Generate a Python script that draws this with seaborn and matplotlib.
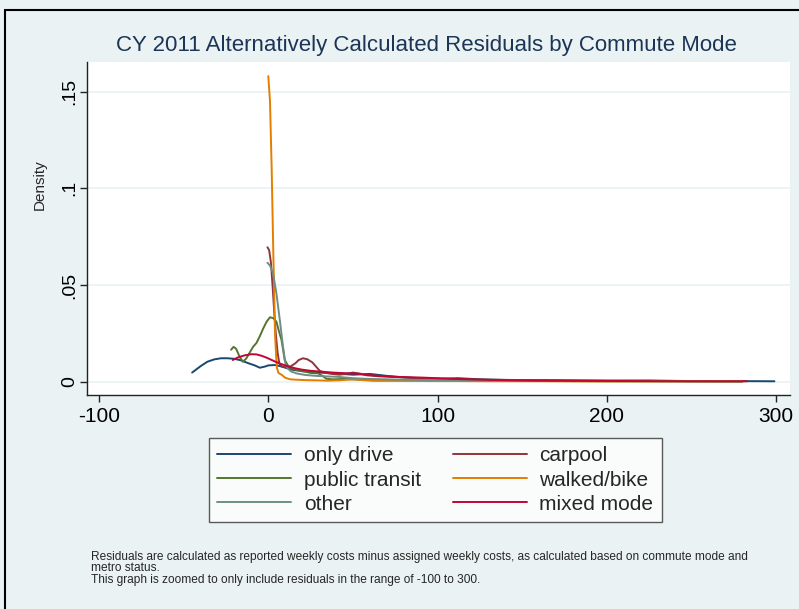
import matplotlib
matplotlib.use("Agg")
import matplotlib.pyplot as plt
import seaborn as sns
import pandas as pd
from matplotlib.lines import Line2D

# ---- data ----
modes = ["only drive", "carpool", "public transit", "walked/bike", "other", "mixed mode"]
colors = ["#1A476F", "#90353B", "#55752F", "#E37E00", "#6E8E84", "#C10534"]

drive_x = [-45, -40, -36, -32, -28, -24, -20, -16, -12, -8, -5, -2, 0, 4, 8, 14, 20, 30, 40, 50, 60, 70, 80, 90, 100, 112, 125, 140, 160, 180, 200, 225, 250, 275, 299]
drive_y = [0.0047, 0.0080, 0.0103, 0.0115, 0.0121, 0.0121, 0.0118, 0.0110, 0.0096, 0.0084, 0.0072, 0.0078, 0.0084, 0.0086, 0.0078, 0.0062, 0.0054, 0.0047, 0.0042, 0.0036, 0.0040, 0.0030, 0.0022, 0.0016, 0.0014, 0.0018, 0.0012, 0.0009, 0.0008, 0.0006, 0.0005, 0.0006, 0.0003, 0.0003, 0.0002]

carpool_x = [-0.5, 0.5, 1.5, 2.5, 3.5, 4.5, 5.5, 6.5, 8, 10, 13, 16, 18, 20.5, 23, 26, 28, 30.5, 34, 38, 42, 46, 50, 54, 58, 65, 75, 90, 110, 130, 160, 200, 240, 280]
carpool_y = [0.0695, 0.068, 0.062, 0.050, 0.036, 0.024, 0.015, 0.0095, 0.0078, 0.0074, 0.0078, 0.0095, 0.0112, 0.0121, 0.0116, 0.0100, 0.0080, 0.0055, 0.0045, 0.0040, 0.0036, 0.0040, 0.0047, 0.0042, 0.0033, 0.0028, 0.0024, 0.0018, 0.0014, 0.0010, 0.0007, 0.0005, 0.0003, 0.0002]

transit_x = [-22, -20.5, -19, -17, -15, -13, -11, -9, -7, -5, -3, -1, 1, 3, 4.8, 6, 7.8, 9.7, 11.5, 13.6, 17, 21.5, 25, 29.4, 32, 34.3, 38, 45, 55, 70, 90, 110, 140, 170, 200, 240, 280]
transit_y = [0.0165, 0.0180, 0.0170, 0.0130, 0.0103, 0.0120, 0.0150, 0.0180, 0.0200, 0.0235, 0.0275, 0.0310, 0.0333, 0.0328, 0.0310, 0.0270, 0.0216, 0.0112, 0.0085, 0.0069, 0.0060, 0.0052, 0.0045, 0.0043, 0.0030, 0.0015, 0.0012, 0.0014, 0.0010, 0.0008, 0.0006, 0.0005, 0.0004, 0.0003, 0.0002, 0.0002, 0.0001]

walk_x = [0, 1, 2, 3, 4, 5, 6, 8, 10, 13, 17, 22, 28, 35, 42, 50, 56, 62, 70, 80, 95, 110, 130, 160, 200, 240, 280]
walk_y = [0.158, 0.145, 0.110, 0.065, 0.024, 0.0075, 0.0045, 0.0035, 0.0020, 0.0012, 0.0010, 0.0008, 0.0007, 0.0005, 0.0007, 0.0012, 0.0008, 0.0004, 0.0004, 0.0004, 0.0003, 0.0003, 0.0002, 0.0002, 0.0001, 0.0001, 0.0001]

other_x = [-0.5, 1, 2.8, 4.8, 6.8, 8.7, 10.1, 11.5, 13.6, 17, 21.5, 28, 35, 41, 50, 60, 75, 90, 110, 130, 160, 200, 240, 280]
other_y = [0.0615, 0.060, 0.056, 0.0457, 0.0319, 0.0181, 0.0095, 0.0068, 0.0052, 0.0042, 0.0035, 0.0030, 0.0027, 0.0025, 0.0018, 0.0014, 0.0011, 0.0009, 0.0007, 0.0005, 0.0004, 0.0003, 0.0002, 0.0001]

mixed_x = [-21, -18, -14, -10, -7, -4, -1, 2, 5, 8, 12, 16, 20, 25, 31, 38, 45, 51, 58, 65, 75, 91, 110, 130, 158, 190, 220, 250, 283]
mixed_y = [0.0112, 0.0125, 0.0136, 0.0142, 0.0141, 0.0134, 0.0124, 0.0112, 0.0100, 0.0090, 0.0078, 0.0069, 0.0062, 0.0056, 0.0052, 0.0047, 0.0044, 0.0042, 0.0036, 0.0030, 0.0025, 0.0021, 0.0014, 0.0009, 0.0005, 0.0004, 0.0003, 0.0002, 0.0002]

x_ticks = [-100, 0, 100, 200, 300]
x_tick_labels = ["-100", "0", "100", "200", "300"]
y_ticks = [0, 0.05, 0.1, 0.15]
y_tick_labels = ["0", ".05", ".1", ".15"]

title = "CY 2011 Alternatively Calculated Residuals by Commute Mode"
y_title = "Density"
note_lines = [
    "Residuals are calculated as reported weekly costs minus assigned weekly costs, as calculated based on commute mode and",
    "metro status.",
    "This graph is zoomed to only include residuals in the range of -100 to 300.",
]

series = {
    "only drive": (drive_x, drive_y),
    "carpool": (carpool_x, carpool_y),
    "public transit": (transit_x, transit_y),
    "walked/bike": (walk_x, walk_y),
    "other": (other_x, other_y),
    "mixed mode": (mixed_x, mixed_y),
}
frames = []
for m in modes:
    xs, ys = series[m]
    frames.append(pd.DataFrame({"x": xs, "y": ys, "mode": m}))
df = pd.concat(frames, ignore_index=True)

# ---- style ----
sns.set_theme(style="white")
plt.rcParams["font.family"] = ["Liberation Sans", "DejaVu Sans"]
BG = "#EAF2F3"
W, H = 799, 609

fig = plt.figure(figsize=(W / 100, H / 100), dpi=100, facecolor=BG)
ax = fig.add_axes([87 / W, 1 - 395 / H, (790 - 87) / W, (395 - 62) / H])
ax.set_facecolor("white")

palette = dict(zip(modes, colors))
sns.lineplot(data=df, x="x", y="y", hue="mode", hue_order=modes, palette=palette,
             units="mode", estimator=None, sort=False, linewidth=1.4, ax=ax, legend=False)

ax.set_xlim(-107.1, 308.2)
ax.set_ylim(-0.0069, 0.1653)
ax.set_xticks(x_ticks)
ax.set_xticklabels(x_tick_labels, fontsize=15)
ax.set_yticks(y_ticks)
ax.set_yticklabels(y_tick_labels, fontsize=14, rotation=90, va="center")
ax.grid(axis="y", color=BG, linewidth=1.2)
ax.grid(axis="x", visible=False)
for s in ["top", "right"]:
    ax.spines[s].set_visible(False)
for s in ["left", "bottom"]:
    ax.spines[s].set_color("#222222")
    ax.spines[s].set_linewidth(1.0)
ax.tick_params(axis="both", direction="out", length=5, width=1.0, color="#222222",
               bottom=True, left=True, labelcolor="black", pad=4)
ax.tick_params(axis="y", pad=1.5)
ax.set_xlabel("")
ax.set_ylabel("")

fig.text(40 / W, 1 - 185 / H, y_title, rotation=90, ha="center", va="center", fontsize=11)
fig.text(426.5 / W, 1 - 46 / H, title, ha="center", va="center", fontsize=16, color="#1C3557")

handles = [Line2D([0], [0], color=palette[m], lw=1.4) for m in modes]
order = [0, 2, 4, 1, 3, 5]
leg = fig.legend([handles[i] for i in order], [modes[i] for i in order], ncol=2,
                 loc="upper left", bbox_to_anchor=(209 / W, 1 - 438 / H),
                 fontsize=15, frameon=True, fancybox=False, handlelength=3.55,
                 columnspacing=1.5, handletextpad=0.62, labelspacing=0.25,
                 borderpad=0.4, borderaxespad=0.0)
leg.get_frame().set_edgecolor("#333333")
leg.get_frame().set_linewidth(1.0)
leg.get_frame().set_facecolor("white")

for yy, line in zip([557, 568, 580], note_lines):
    fig.text(91 / W, 1 - yy / H, line, ha="left", va="center", fontsize=8.6)

# black frame on left and top
fig.add_artist(Line2D([5 / W, 5 / W], [0, 1 - 10 / H], color="black", lw=1.5, transform=fig.transFigure))
fig.add_artist(Line2D([5 / W, 1], [1 - 10 / H, 1 - 10 / H], color="black", lw=1.5, transform=fig.transFigure))

fig.savefig("out.png", dpi=100, facecolor=BG)
